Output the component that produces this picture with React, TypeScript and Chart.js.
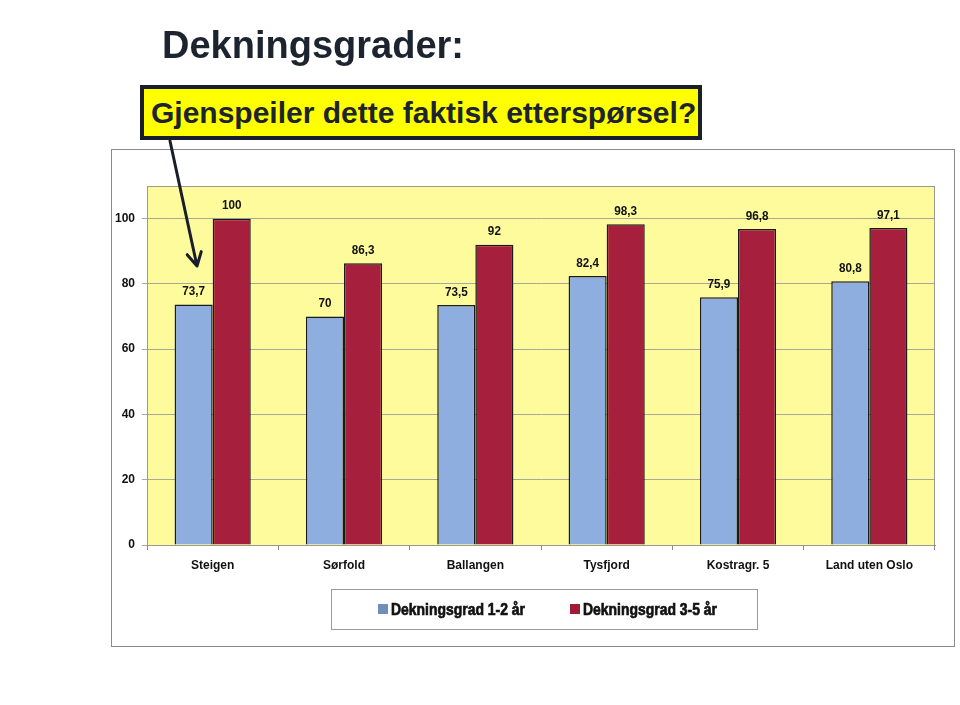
import React, { useEffect, useRef } from "react";
import { Chart, registerables } from "chart.js";

Chart.register(...registerables);

const categories = ["Steigen", "Sørfold", "Ballangen", "Tysfjord", "Kostragr. 5", "Land uten Oslo"];
const seriesNames = ["Dekningsgrad 1-2 år", "Dekningsgrad 3-5 år"];
const values12 = [73.7, 70, 73.5, 82.4, 75.9, 80.8];
const values35 = [100, 86.3, 92, 98.3, 96.8, 97.1];
const yTicks = [0, 20, 40, 60, 80, 100];

const BLUE = "#8eaee0";
const RED = "#a61f3c";
const BLUE_LEG = "#6f8fb8";
const RED_LEG = "#a01c34";
const FONT = "'Liberation Sans', Arial, sans-serif";

const fmt = (v: number) => String(v).replace(".", ",");

const decorPlugin = {
  id: "decor",
  beforeDraw(chart: any) {
    const { ctx, chartArea } = chart;
    ctx.save();
    ctx.fillStyle = "#ffffff";
    ctx.fillRect(111, 149, 843, 497);
    ctx.strokeStyle = "#8a8a8a";
    ctx.lineWidth = 1;
    ctx.strokeRect(111.5, 149.5, 843, 497);
    ctx.fillStyle = "#fdfb9c";
    ctx.fillRect(chartArea.left, chartArea.top, chartArea.right - chartArea.left, chartArea.bottom - chartArea.top);
    ctx.restore();
  },
  afterDraw(chart: any) {
    const { ctx, chartArea } = chart;
    ctx.save();
    // plot border
    ctx.strokeStyle = "#9a9a90";
    ctx.lineWidth = 1;
    ctx.strokeRect(chartArea.left + 0.5, chartArea.top + 0.5, chartArea.right - chartArea.left - 1, chartArea.bottom - chartArea.top);
    // legend box
    ctx.fillStyle = "#ffffff";
    ctx.fillRect(331, 589, 426, 40);
    ctx.strokeStyle = "#9a9a9a";
    ctx.strokeRect(331.5, 589.5, 426, 40);
    const items = [
      { x: 378, color: BLUE_LEG, label: chart.data.datasets[0].label },
      { x: 570, color: RED_LEG, label: chart.data.datasets[1].label },
    ];
    ctx.textBaseline = "middle";
    ctx.textAlign = "left";
    for (const it of items) {
      ctx.fillStyle = it.color;
      ctx.fillRect(it.x, 604, 10, 10);
      ctx.save();
      ctx.translate(it.x + 13, 610);
      ctx.scale(0.82, 1);
      ctx.font = `bold 17px ${FONT}`;
      ctx.fillStyle = "#111111";
      ctx.strokeStyle = "#111111";
      ctx.lineWidth = 0.7;
      ctx.fillText(it.label, 0, 0);
      ctx.strokeText(it.label, 0, 0);
      ctx.restore();
    }
    // arrow
    const x1 = 170, y1 = 141, x2 = 197, y2 = 266;
    ctx.strokeStyle = "#1a1d2a";
    ctx.lineWidth = 3;
    ctx.lineCap = "round";
    ctx.beginPath();
    ctx.moveTo(x1, y1);
    ctx.lineTo(x2, y2);
    const ang = Math.atan2(y2 - y1, x2 - x1);
    const L = 15;
    for (const d of [0.5, -0.5]) {
      ctx.moveTo(x2, y2);
      ctx.lineTo(x2 - L * Math.cos(ang + d), y2 - L * Math.sin(ang + d));
    }
    ctx.stroke();
    ctx.restore();
  },
  afterDatasetsDraw(chart: any) {
    const { ctx } = chart;
    ctx.save();
    ctx.fillStyle = "#111111";
    ctx.textAlign = "center";
    ctx.textBaseline = "middle";
    chart.data.datasets.forEach((ds: any, i: number) => {
      const meta = chart.getDatasetMeta(i);
      meta.data.forEach((bar: any, j: number) => {
        ctx.save();
        ctx.translate(bar.x, bar.y - 13);
        ctx.scale(0.9, 1);
        ctx.font = `bold 13px ${FONT}`;
        ctx.fillText(fmt(ds.data[j]), 0, 0);
        ctx.restore();
      });
    });
    ctx.restore();
  },
};

export default function App() {
  const ref = useRef<HTMLCanvasElement | null>(null);
  useEffect(() => {
    if (!ref.current) return;
    const chart = new Chart(ref.current, {
      type: "bar",
      data: {
        labels: categories,
        datasets: [
          { label: seriesNames[0], data: values12, backgroundColor: BLUE, borderColor: "#1a1a1a", borderWidth: 1.5, categoryPercentage: 0.58, barPercentage: 1.0 },
          { label: seriesNames[1], data: values35, backgroundColor: RED, borderColor: "#1a1a1a", borderWidth: 1.5, categoryPercentage: 0.58, barPercentage: 1.0 },
        ],
      },
      options: {
        animation: false,
        responsive: false,
        events: [],
        layout: { padding: { left: 110, right: 25, top: 186, bottom: 130 } },
        plugins: { legend: { display: false }, tooltip: { enabled: false }, title: { display: false } },
        scales: {
          x: {
            offset: true,
            grid: { display: true, drawOnChartArea: false, drawTicks: true, tickLength: 5, color: "#8a8a8a", offset: true },
            border: { display: true, color: "#8a8a8a" },
            ticks: { color: "#111111", font: { family: FONT, size: 12, weight: "bold" }, padding: 8, maxRotation: 0 },
            afterFit(scale: any) { scale.height = 30; },
          },
          y: {
            min: 0,
            max: 110,
            afterBuildTicks(axis: any) { axis.ticks = yTicks.map((v) => ({ value: v })); },
            grid: { color: "#a9a99a", lineWidth: 1, tickLength: 5, drawTicks: true },
            border: { display: true, color: "#8a8a8a" },
            ticks: { color: "#111111", font: { family: FONT, size: 12, weight: "bold" }, padding: 7 },
            afterFit(scale: any) { scale.width = 37; },
          },
        },
      },
      plugins: [decorPlugin],
    } as any);
    return () => chart.destroy();
  }, []);

  return (
    <div style={{ position: "fixed", left: 0, top: 0, width: 960, height: 705, background: "#ffffff", overflow: "hidden" }}>
      <canvas ref={ref} width={960} height={705} style={{ position: "absolute", left: 0, top: 0, width: 960, height: 705 }} />
      <div style={{ position: "absolute", left: 162, top: 22, fontFamily: FONT, fontWeight: "bold", fontSize: 38, color: "#1c2430", lineHeight: "46px", whiteSpace: "nowrap" }}>
        Dekningsgrader:
      </div>
      <div style={{ position: "absolute", left: 140, top: 85, width: 554, height: 47, background: "#ffff00", border: "4px solid #1a1d2a", boxSizing: "content-box", fontFamily: FONT, fontWeight: "bold", fontSize: 30, color: "#1c2430", lineHeight: "47px", whiteSpace: "nowrap" }}>
        <span style={{ marginLeft: 7 }}>Gjenspeiler dette faktisk etterspørsel?</span>
      </div>
    </div>
  );
}
